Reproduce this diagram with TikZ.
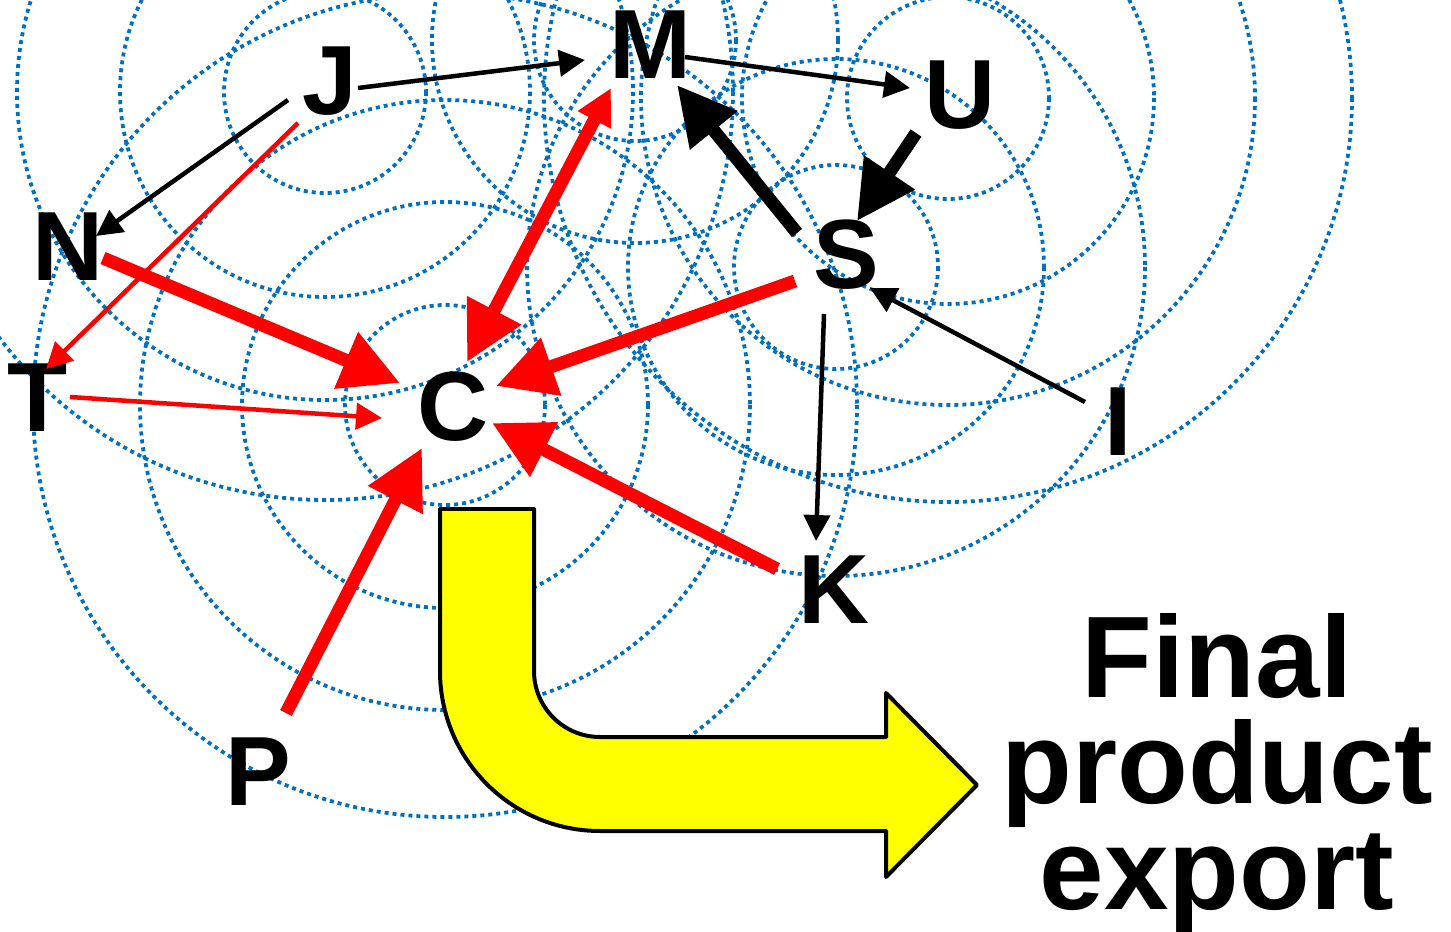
\documentclass[tikz,border=0pt]{standalone}
\usepackage{fontspec}
\setmainfont{Liberation Sans}
\usetikzlibrary{arrows.meta}
\definecolor{ripple}{HTML}{0070C0}
\definecolor{flowred}{HTML}{FF0000}
\definecolor{exportyellow}{HTML}{FFFF00}
\tikzset{
  ring/.style={draw=ripple, line width=0.075cm, dash pattern=on 0.08cm off 0.08cm},
  country/.style={font=\fontsize{56pt}{56pt}\selectfont\bfseries, inner sep=0pt},
  thinflow/.style={line width=0.09cm, -{Triangle[length=0.52cm,width=0.52cm]}},
  thickflow/.style={line width=0.26cm, -{Triangle[length=1.17cm,width=1.16cm]}},
  exportbox/.style={font=\fontsize{66pt}{60.4pt}\selectfont\bfseries, inner sep=0pt, align=center}
}
\begin{document}
\begin{tikzpicture}[x=0.02cm,y=-0.02cm]
\useasboundingbox (0,0) rectangle (1451,932);
% ripples
\foreach \cx/\cy/\radii in {325/92/{101,205,308,408}, 635/40/{101,203},
    948/98/{101,206,307,404}, 836/267/{102,208,309}, 445/405/{100,203,305,412}}
  \foreach \r in \radii
    \draw[ring] (\cx,\cy) circle[radius=\r];
% countries
\node[country] (J) at (330,81) {J};
\node[country] (M) at (650,45) {M};
\node[country] (U) at (960,95) {U};
\node[country] (S) at (846,255) {S};
\node[country] (N) at (68,247) {N};
\node[country] (T) at (38,398) {T};
\node[country] (C) at (453,407) {C};
\node[country] (K) at (834,590) {K};
\node[country] (I) at (1118,422) {I};
\node[country] (P) at (258,772) {P};
% flows
\draw[thinflow] ([shift={(28,7)}]J.center) -- ([shift={(-65,15)}]M.center);
\draw[thinflow] ([shift={(35,12)}]M.center) -- ([shift={(-50,-7)}]U.center);
\draw[thinflow] ([shift={(-42,19)}]J.center) -- ([shift={(28,-11)}]N.center);
\draw[thinflow,flowred] ([shift={(-32,42)}]J.center) -- ([shift={(8,-29)}]T.center);
\draw[thinflow,flowred] ([shift={(32,-1)}]T.center) -- ([shift={(-71,11)}]C.center);
\draw[thickflow,flowred] ([shift={(35,11)}]N.center) -- ([shift={(-53,-24)}]C.center);
\draw[thickflow,flowred,{Triangle[length=0.72cm,width=0.7cm]}-{Triangle[length=1.17cm,width=1.16cm]}]
  ([shift={(-39,43)}]M.center) -- ([shift={(14,-45)}]C.center);
\draw[thickflow,flowred] ([shift={(-51,26)}]S.center) -- ([shift={(43,-21)}]C.center);
\draw[thickflow,flowred] ([shift={(-57,-21)}]K.center) -- ([shift={(39,16)}]C.center);
\draw[thickflow,flowred] ([shift={(28,-59)}]P.center) -- ([shift={(-31,41)}]C.center);
\draw[thickflow] ([shift={(-49,-22)}]S.center) -- ([shift={(27,40)}]M.center);
\draw[thickflow] ([shift={(-44,38)}]U.center) -- ([shift={(11,-34)}]S.center);
\draw[thinflow] ([shift={(-22,59)}]S.center) -- ([shift={(-18,-49)}]K.center);
\draw[thinflow] ([shift={(-33,-20)}]I.center) -- ([shift={(24,33)}]S.center);
% export arrow
\draw[line width=0.08cm, line join=round, fill=exportyellow]
  (440,509) -- (534,509) -- (534,671) arc[start angle=180, end angle=90, radius=66]
  -- (886,737) -- (886,693) -- (977,785) -- (886,877) -- (886,831) -- (600,831)
  arc[start angle=90, end angle=180, radius=160] -- cycle;
\node[exportbox, anchor=north] (fin) at (1217,613) {Final\\product\\export};
\end{tikzpicture}
\end{document}
